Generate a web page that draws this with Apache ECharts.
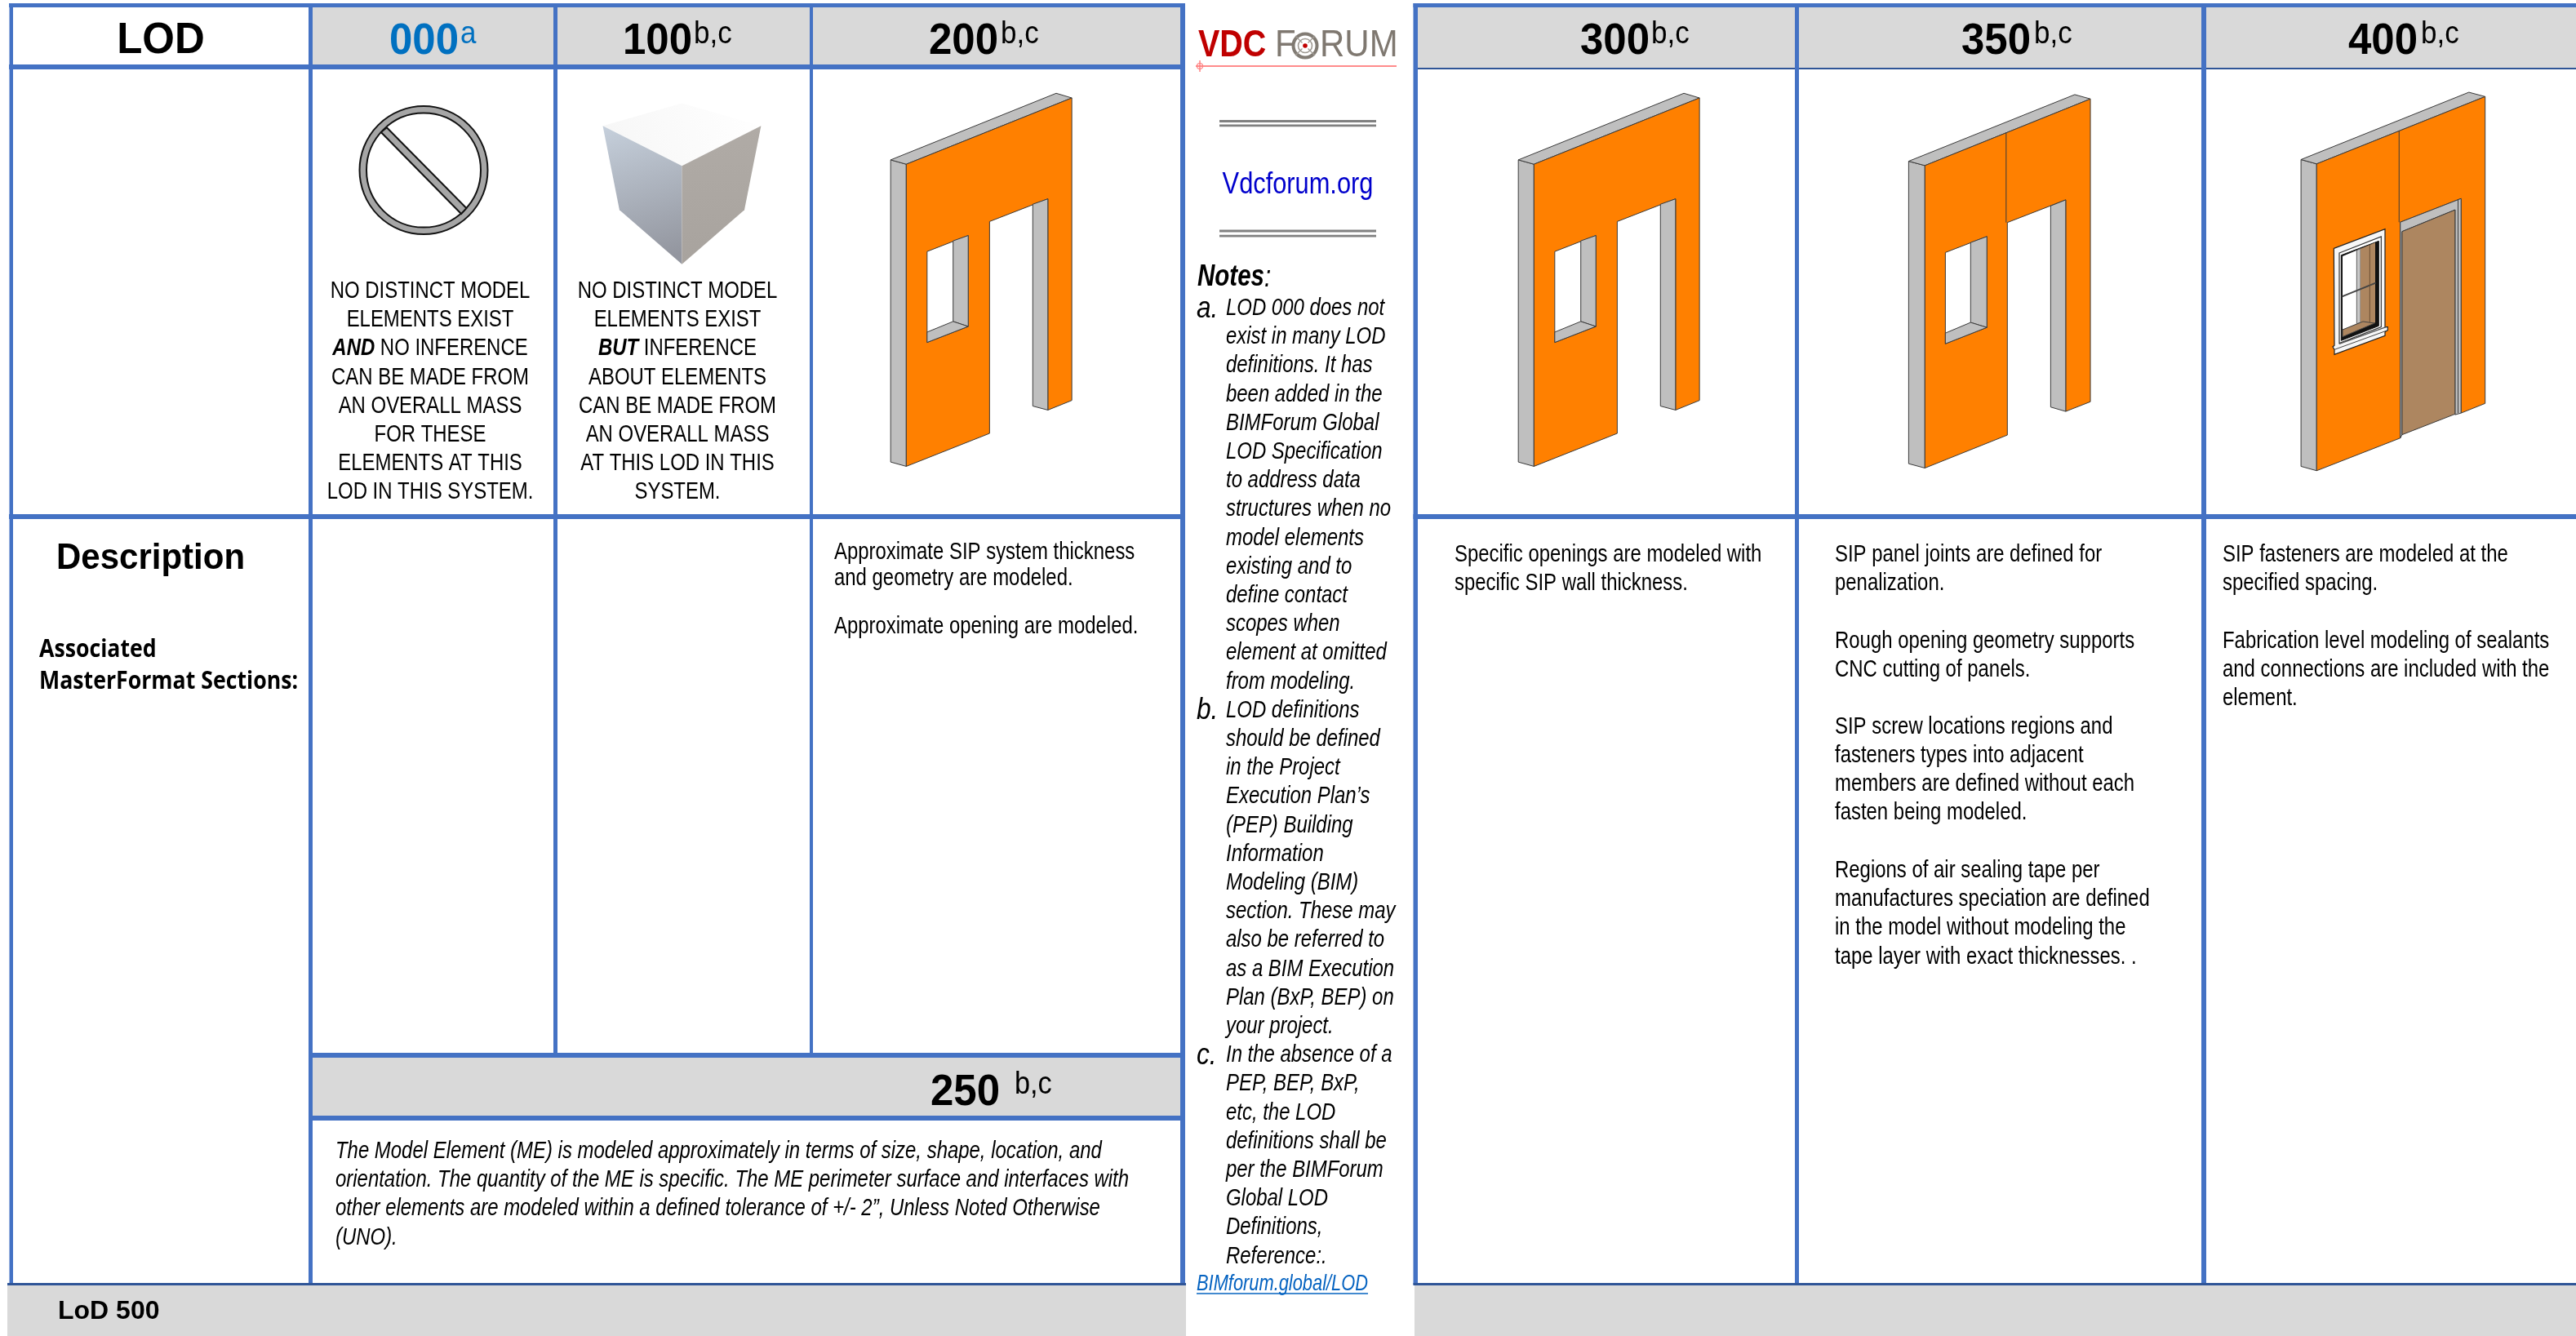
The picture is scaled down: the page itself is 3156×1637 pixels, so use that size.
<!DOCTYPE html>
<html><head><meta charset="utf-8">
<script src="https://cdn.jsdelivr.net/npm/echarts@6/dist/echarts.min.js"></script>
<style>html,body{margin:0;padding:0;background:#fff}#c{width:3156px;height:1637px}</style></head>
<body><div id="c"></div>
<script>
// ---------- table content ----------
const lodHeaders = ['000', '100', '200', '300', '350', '400'];
const lodMarks = ['a', 'b,c', 'b,c', 'b,c', 'b,c', 'b,c'];
const lod000Lines = ['NO DISTINCT MODEL', 'ELEMENTS EXIST', '{bi|AND}{n| NO INFERENCE}', 'CAN BE MADE FROM', 'AN OVERALL MASS', 'FOR THESE', 'ELEMENTS AT THIS', 'LOD IN THIS SYSTEM.'];
const lod100Lines = ['NO DISTINCT MODEL', 'ELEMENTS EXIST', '{bi|BUT}{n| INFERENCE}', 'ABOUT ELEMENTS', 'CAN BE MADE FROM', 'AN OVERALL MASS', 'AT THIS LOD IN THIS', 'SYSTEM.'];
const lod200Lines = ['Approximate SIP system thickness', 'and geometry are modeled.', 'Approximate opening are modeled.'];
const lod250Lines = ['The Model Element (ME) is modeled approximately in terms of size, shape, location, and', 'orientation. The quantity of the ME is specific. The ME perimeter surface and interfaces with', 'other elements are modeled within a defined tolerance of +/- 2”, Unless Noted Otherwise', '(UNO).'];
const lod300Lines = ['Specific openings are modeled with', 'specific SIP wall thickness.'];
const lod350Lines = ['SIP panel joints are defined for', 'penalization.', 'Rough opening geometry supports', 'CNC cutting of panels.', 'SIP screw locations regions and', 'fasteners types into adjacent', 'members are defined without each', 'fasten being modeled.', 'Regions of air sealing tape per', 'manufactures speciation are defined', 'in the model without modeling the', 'tape layer with exact thicknesses. .'];
const lod400Lines = ['SIP fasteners are modeled at the', 'specified spacing.', 'Fabrication level modeling of sealants', 'and connections are included with the', 'element.'];
const noteALines = ['LOD 000 does not', 'exist in many LOD', 'definitions. It has', 'been added in the', 'BIMForum Global', 'LOD Specification', 'to address data', 'structures when no', 'model elements', 'existing and to', 'define contact', 'scopes when', 'element at omitted', 'from modeling.'];
const noteBLines = ['LOD definitions', 'should be defined', 'in the Project', 'Execution Plan’s', '(PEP) Building', 'Information', 'Modeling (BIM)', 'section. These may', 'also be referred to', 'as a BIM Execution', 'Plan (BxP, BEP) on', 'your project.'];
const noteCLines = ['In the absence of a', 'PEP, BEP, BxP,', 'etc, the LOD', 'definitions shall be', 'per the BIMForum', 'Global LOD', 'Definitions,', 'Reference:.'];

// ---------- layout / style ----------
const ARIAL = '"Liberation Sans",Arial,sans-serif';
const OPEN = '"Open Sans",sans-serif';
const BLUE = '#4472C4', DARK = '#2F5597', GRAY = '#D9D9D9', ORANGE = '#FF8000', WALL = '#BFBFBF', EDGE = '#3A3A3A', BROWN = '#AD8660';
const rects = [
  // fills
  [383, 9, 1446, 79, GRAY], [1737, 9, 3156, 83, GRAY], [383, 1296, 1446, 1367, GRAY],
  [9, 1575, 1453, 1637, GRAY], [1733, 1575, 3156, 1637, GRAY],
  // left table rules
  [11, 4, 1452, 9, BLUE], [11, 79, 1452, 85, BLUE], [11, 630, 1452, 636, BLUE],
  [11.5, 4, 16, 1574, BLUE], [378, 4, 383, 1574, BLUE], [678, 4, 683, 1292, BLUE], [992, 4, 996, 1292, BLUE], [1446, 4, 1452, 1574, BLUE],
  [380, 1290, 1452, 1296, BLUE], [380, 1367, 1452, 1373, BLUE], [9, 1572, 1453, 1575, DARK],
  // right table rules
  [1731.5, 4, 3156, 9, BLUE], [1731.5, 4, 1737, 1574, BLUE], [1731.5, 630, 3156, 636, BLUE], [1737, 83, 3156, 85, DARK],
  [2199, 4, 2204, 1574, BLUE], [2697, 4, 2703, 1574, BLUE], [1731.5, 1572, 3156, 1575, DARK]
];

function renderCell(params, api) {
  const r = rects[params.dataIndex];
  const a = api.coord([r[0], r[1]]), b = api.coord([r[2], r[3]]);
  return { type: 'rect', shape: { x: a[0], y: a[1], width: b[0] - a[0], height: b[1] - a[1] }, style: { fill: r[4] } };
}

function renderArt(params, api) {
  const kids = [];
  const P = (x, y) => api.coord([x, y]);
  const poly = (pts, fill, tf, stroke, lw) => kids.push({ type: 'polygon', shape: { points: pts.map(p => { const q = tf(p); return P(q[0], q[1]); }) }, style: { fill: fill, stroke: stroke === undefined ? EDGE : stroke, lineWidth: lw === undefined ? 1 : lw } });
  const line = (p, q, tf, stroke, lw) => { const a = tf(p), b = tf(q), A = P(a[0], a[1]), B = P(b[0], b[1]); kids.push({ type: 'line', shape: { x1: A[0], y1: A[1], x2: B[0], y2: B[1] }, style: { stroke: stroke, lineWidth: lw } }); };
  const circ = (x, y, r, fill, stroke, lw) => { const c = P(x, y); kids.push({ type: 'circle', shape: { cx: c[0], cy: c[1], r: r }, style: { fill: fill, stroke: stroke, lineWidth: lw } }); };

  // prohibition sign
  const t1 = p => [p[0] / 1.568, p[1] / 2.45];
  circ(519, 208.6, 78.5, '#A6A6A6', '#111', 2);
  circ(519, 208.6, 70, '#fff', '#111', 2);
  poly([[743, 383], [896, 625], [886, 642], [732, 397]], '#A6A6A6', t1, '#111', 2);

  // massing cube
  const G = (c0, c1, x0, y0, x1, y1) => new echarts.graphic.LinearGradient(x0, y0, x1, y1, [{ offset: 0, color: c0 }, { offset: 1, color: c1 }]);
  poly([[1158, 378], [1310, 310], [1462, 378], [1310, 498]], G('#F6F6F6', '#FFFFFF', 0, 1, 1, 0), t1, 'none', 0);
  poly([[1158, 378], [1310, 498], [1310, 793], [1190, 630]], G('#C6D0DC', '#93969F', 0, 0, 0.5, 1), t1, 'none', 0);
  poly([[1310, 498], [1462, 378], [1430, 630], [1310, 793]], G('#B0ABA6', '#A8A39E', 0, 0, 0, 1), t1, 'none', 0);

  // wall LOD 200 and 300 (same shape, shifted)
  [0, 769].forEach(dx => {
    const t2 = p => [1000 + dx + p[0] / 1.568, p[1] / 2.45];
    poly([[143, 480], [173, 493], [173, 1400], [143, 1387]], WALL, t2);
    poly([[143, 480], [461, 280], [491, 294], [173, 493]], WALL, t2);
    poly([[173, 493], [491, 294], [491, 1202], [445, 1231], [445, 597], [333, 665], [333, 1301], [173, 1400]], ORANGE, t2);
    poly([[416, 613], [445, 597], [445, 1231], [416, 1219]], WALL, t2);
    poly([[213, 755], [292, 707], [292, 980], [213, 1028]], '#fff', t2);
    poly([[263, 723], [292, 707], [292, 980], [263, 965]], WALL, t2);
    poly([[213, 997], [263, 965], [292, 980], [213, 1028]], WALL, t2);
  });

  // wall LOD 350
  const t3 = p => [2000 + p[0] / 1.3564, p[1] / 2.45];
  poly([[459, 484], [486, 497], [486, 1405], [459, 1392]], WALL, t3);
  poly([[459, 484], [735, 284], [761, 297], [486, 497]], WALL, t3);
  poly([[486, 497], [761, 297], [761, 1206], [720, 1235], [720, 600], [623, 668], [623, 1306], [486, 1405]], ORANGE, t3);
  poly([[695, 618], [720, 600], [720, 1235], [695, 1222]], WALL, t3);
  poly([[520, 758], [589, 710], [589, 983], [520, 1032]], '#fff', t3);
  poly([[562, 728], [589, 710], [589, 983], [562, 968]], WALL, t3);
  poly([[520, 1000], [562, 968], [589, 983], [520, 1032]], WALL, t3);
  line([621, 398], [621, 668], t3, EDGE, 1);

  // wall LOD 400
  poly([[1111, 479], [1137, 492], [1137, 1413], [1111, 1400]], WALL, t3);
  poly([[1111, 479], [1390, 277], [1417, 290], [1137, 492]], WALL, t3);
  poly([[1137, 492], [1417, 290], [1417, 1211], [1377, 1240], [1377, 596], [1276, 667], [1276, 1315], [1137, 1413]], ORANGE, t3);
  line([1274, 392], [1274, 667], t3, EDGE, 1);
  poly([[1276, 667], [1377, 596], [1377, 1240], [1367, 1245], [1367, 630], [1279, 695], [1279, 1305], [1276, 1315]], WALL, t3);
  poly([[1279, 695], [1367, 630], [1367, 1243], [1279, 1305]], BROWN, t3);
  line([1372, 600], [1372, 1240], t3, EDGE, 1);
  // window of LOD 400
  const t4 = p => [2780 + p[0] / 3, 250 + p[1] / 3];
  poly([[238, 163], [426, 92], [426, 452], [436, 452], [436, 464], [426, 470], [426, 484], [240, 553], [240, 535], [234, 525], [240, 520]], '#F7F7F7', t4, '#222', 1.2);
  poly([[258, 180], [412, 120], [412, 452], [258, 512]], '#fff', t4, '#333', 1.2);
  poly([[265, 188], [403, 136], [403, 448], [265, 502]], '#111', t4, '#111', 1);
  poly([[270, 192], [322, 170], [322, 440], [270, 462]], '#fff', t4, 'none', 0);
  poly([[322, 170], [336, 164], [336, 436], [322, 440]], '#C8C8C8', t4, '#666', 1);
  poly([[336, 164], [390, 142], [390, 436], [336, 456]], BROWN, t4, 'none', 0);
  poly([[270, 462], [345, 432], [388, 438], [270, 488]], BROWN, t4, '#444', 1);
  line([268, 340], [392, 290], t4, '#444', 2);
  line([370, 150], [370, 435], t4, '#6A4E33', 1);
  line([258, 514], [430, 452], t4, '#555', 1.5);
  line([240, 535], [436, 464], t4, '#444', 1);

  // double rules
  const id = p => p;
  [[148.5, 153.8], [283, 289.2]].forEach(ys => ys.forEach(y => line([1494, y], [1686, y], id, '#808080', 2.8)));

  // logo: underline, crosshair, target
  line([1465, 81], [1711, 81], id, '#FF6666', 1.6);
  line([1470, 74], [1470, 88], id, '#FF8080', 1.5);
  circ(1470, 81, 3.5, 'none', '#FF8080', 1.2);
  circ(1599, 56, 14.5, 'none', '#827C74', 4);
  circ(1599, 56, 8.5, 'none', '#A09B94', 1.6);
  line([1587, 44], [1611, 68], id, '#A09B94', 1.2);
  line([1611, 44], [1587, 68], id, '#A09B94', 1.2);
  circ(1599, 56, 5, '#fff', 'none', 0);
  circ(1599, 56, 2.8, '#C00000', 'none', 0);
  // link underline
  line([1466, 1585], [1676, 1585], id, '#0563C1', 1.5);
  return { type: 'group', children: kids };
}

function renderText(params, api) {
  const kids = [];
  const T = (text, x, y, o) => {
    o = o || {};
    const c = api.coord([x, y + 1.5]);
    const el = { type: 'text', x: c[0], y: c[1], scaleX: o.sx || 0.825, scaleY: o.sy || 1, style: {
      text: text, fontFamily: o.fam || ARIAL, fontSize: o.size || 29, fontWeight: o.w || 'normal', fontStyle: o.st || 'normal',
      fill: o.fill || '#000', align: o.align || 'left', verticalAlign: 'middle' } };
    if (o.rich) el.style.rich = o.rich;
    kids.push(el);
  };
  // header row
  T('LOD', 197, 49, { w: 'bold', size: 51, align: 'center', sx: 1, sy: 1.05 });
  const hx = [477, 763, 1138, 1936, 2403, 2877], mx = [564, 850, 1226, 2023, 2492, 2966];
  lodHeaders.forEach((h, i) => {
    const col = i === 0 ? '#0070C0' : '#000';
    T(h, hx[i], 50, { w: 'bold', size: 51, fill: col, sx: 1, sy: 1.06 });
    T(lodMarks[i], mx[i], 41, { size: 35, fill: col, sx: 1, sy: 1.12 });
  });
  T('250', 1140, 1338, { w: 'bold', size: 51, sx: 1, sy: 1.06 });
  T('b,c', 1243, 1328, { size: 35, sx: 0.98, sy: 1.12 });
  // LOD 000 / 100 captions
  const rich = { n: { fontFamily: ARIAL, fontSize: 29, fill: '#000' }, bi: { fontFamily: ARIAL, fontSize: 29, fontWeight: 'bold', fontStyle: 'italic', fill: '#000' } };
  const capY = [355, 390.5, 425.7, 461, 496, 531.3, 566.5, 601.6];
  lod000Lines.forEach((s, i) => T(s, 527, capY[i], { align: 'center', rich: rich }));
  lod100Lines.forEach((s, i) => T(s, 830, capY[i], { align: 'center', rich: rich }));
  // side labels
  T('Description', 69, 683, { w: 'bold', size: 42, sx: 1, sy: 1.04 });
  T('Associated', 48, 795, { fam: OPEN, w: 'bold', size: 30, sx: 0.89 });
  T('MasterFormat Sections:', 48, 834, { fam: OPEN, w: 'bold', size: 30, sx: 0.89 });
  T('LoD 500', 71, 1606, { w: 'bold', size: 32, sx: 1 });
  // descriptions
  [675, 707, 766].forEach((y, i) => T(lod200Lines[i], 1022, y));
  [678, 713].forEach((y, i) => T(lod300Lines[i], 1782, y));
  [678, 713, 784, 819, 889, 924, 959, 994, 1065, 1100, 1135, 1171].forEach((y, i) => T(lod350Lines[i], 2248, y));
  [678, 713, 784, 819, 854].forEach((y, i) => T(lod400Lines[i], 2723, y));
  [1409, 1444, 1479, 1515].forEach((y, i) => T(lod250Lines[i], 411, y, { st: 'italic' }));
  // centre column
  T('VDC', 1468, 55, { w: 'bold', size: 42, fill: '#C00000', sx: 0.94, sy: 1.12 });
  T('F', 1562, 55, { size: 42, fill: '#7F7870', sx: 1, sy: 1.12 });
  T('RUM', 1617, 55, { size: 42, fill: '#7F7870', sx: 1, sy: 1.12 });
  T('Vdcforum.org', 1590, 225.5, { size: 36, fill: '#0000CC', align: 'center', sx: 0.855 });
  T('Notes', 1467, 339, { size: 36, w: 'bold', st: 'italic', sx: 0.82 });
  T(':', 1549, 339, { size: 36, st: 'italic', sx: 0.82 });
  const all = noteALines.concat(noteBLines, noteCLines);
  all.forEach((s, i) => T(s, 1502, 376.5 + i * 35.2, { st: 'italic' }));
  T('a.', 1466, 377, { size: 36, st: 'italic', sx: 0.88 });
  T('b.', 1466, 377 + noteALines.length * 35.2, { size: 36, st: 'italic', sx: 0.88 });
  T('c.', 1466, 377 + (noteALines.length + noteBLines.length) * 35.2, { size: 36, st: 'italic', sx: 0.88 });
  T('BIMforum.global/LOD', 1466, 1572, { size: 28, st: 'italic', fill: '#0563C1', sx: 0.78 });
  return { type: 'group', children: kids };
}

const chart = echarts.init(document.getElementById('c'), null, { renderer: 'canvas', width: 3156, height: 1637 });
chart.setOption({
  animation: false,
  backgroundColor: '#fff',
  grid: { left: 0, right: 0, top: 0, bottom: 0 },
  xAxis: { type: 'value', min: 0, max: 3156, show: false },
  yAxis: { type: 'value', min: 0, max: 1637, inverse: true, show: false },
  series: [
    { type: 'custom', name: 'cells', silent: true, coordinateSystem: 'cartesian2d', renderItem: renderCell, data: rects.map((r, i) => [i]), encode: { x: 0 } },
    { type: 'custom', name: 'art', silent: true, coordinateSystem: 'cartesian2d', renderItem: renderArt, data: [[0, 0]] },
    { type: 'custom', name: 'text', silent: true, coordinateSystem: 'cartesian2d', renderItem: renderText, data: [[0, 0]] }
  ]
});
</script></body></html>
